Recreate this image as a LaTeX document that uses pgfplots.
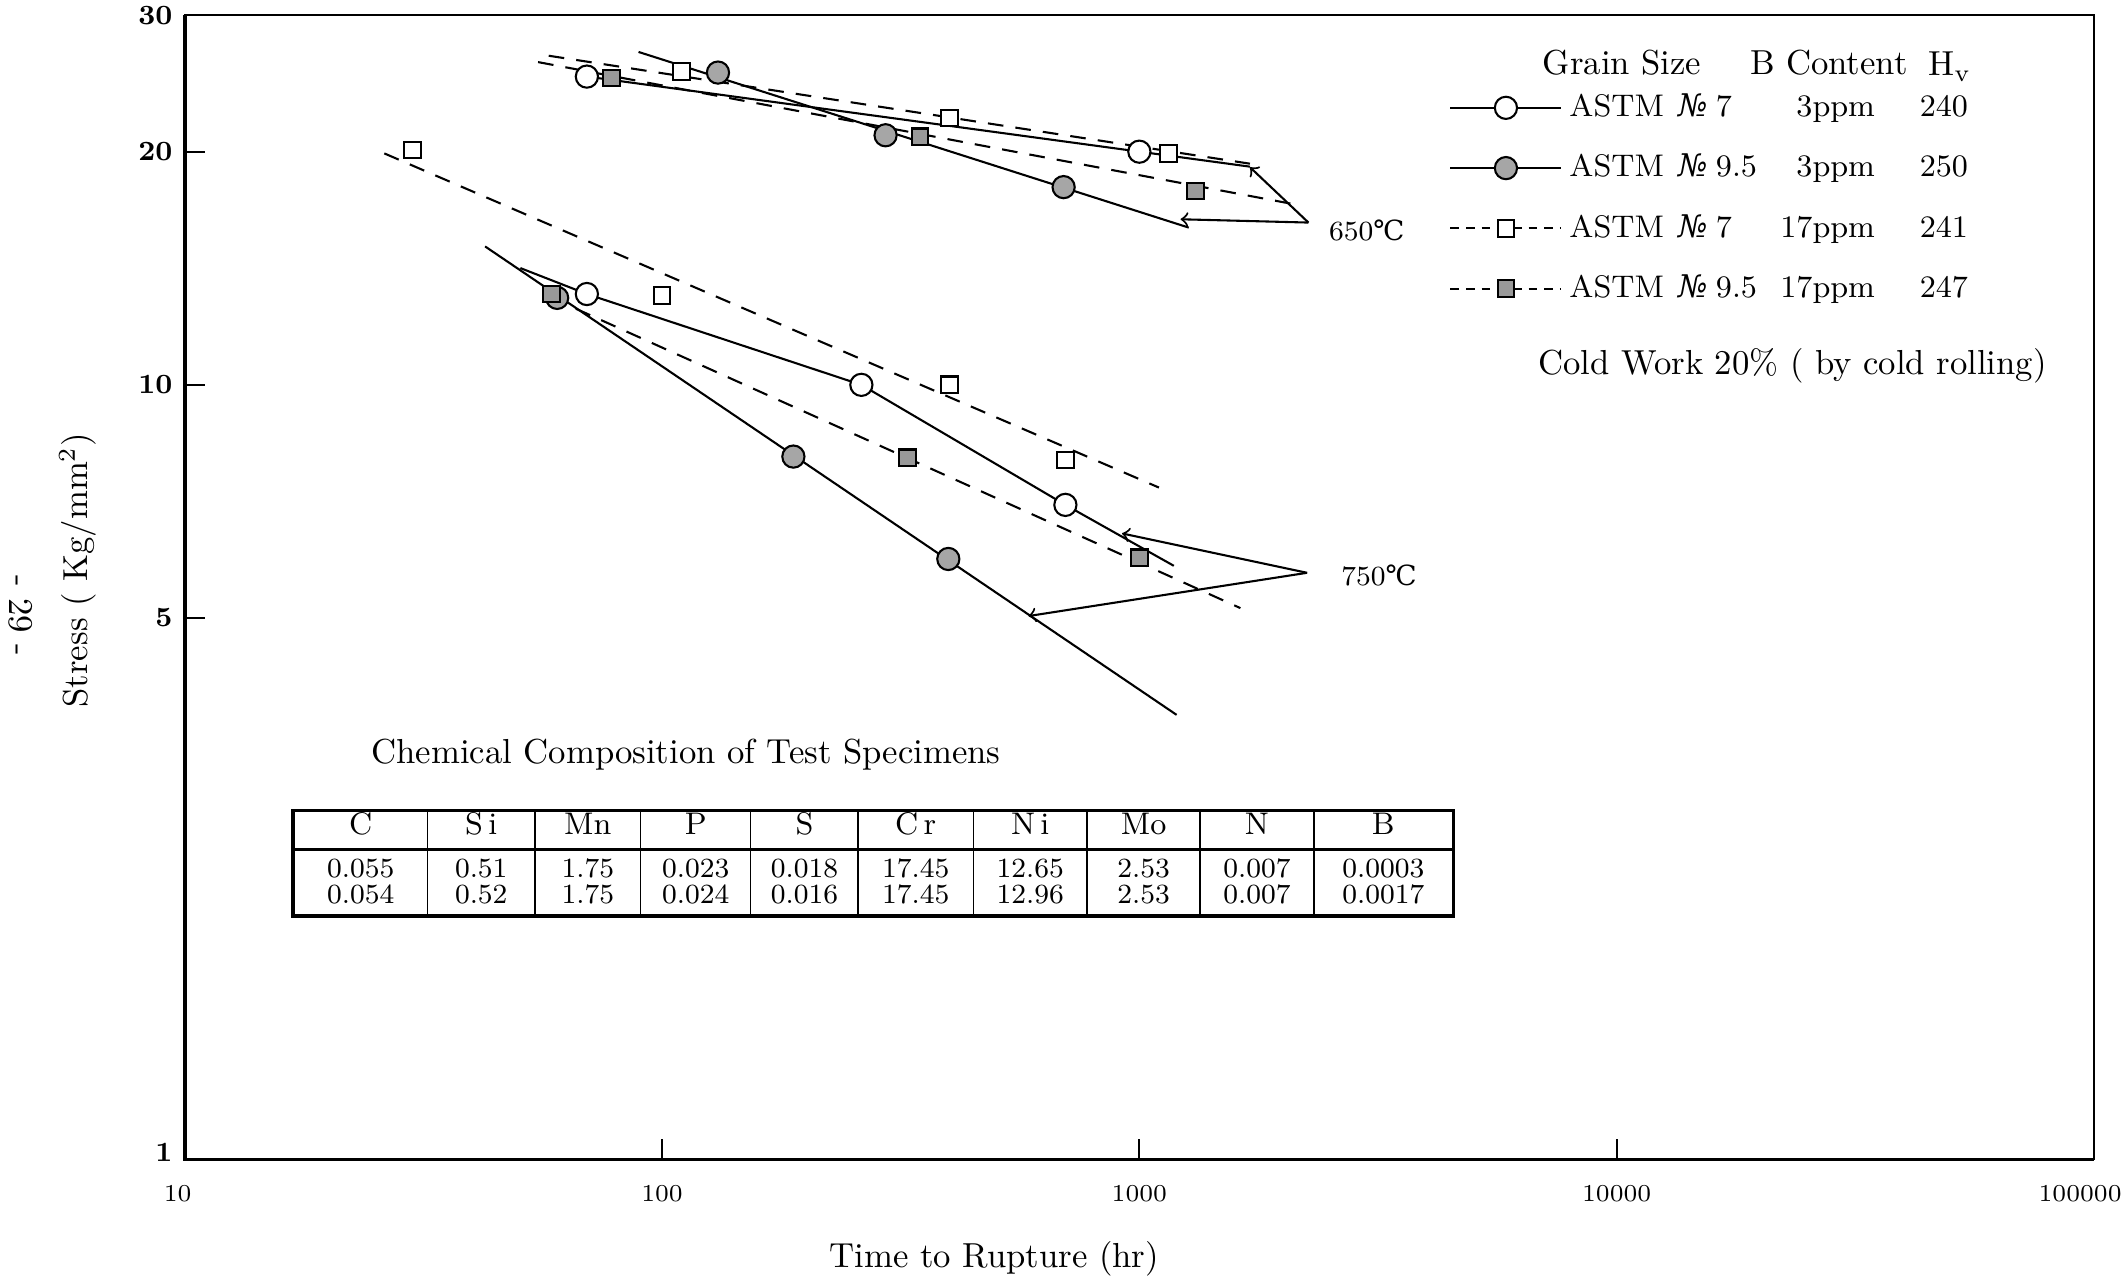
\documentclass[border=0pt]{standalone}
\usepackage{fontspec}
\usepackage{array}
\usepackage{pgfplots}
\pgfplotsset{compat=1.18}
\newfontfamily\dvs{DejaVu Serif}
\newcolumntype{C}[1]{>{\centering\arraybackslash}p{#1}}
\newcommand\ls{\addfontfeatures{LetterSpace=12}}
\newcommand\lsb{\addfontfeatures{LetterSpace=18}}
\begin{document}
\begin{tikzpicture}
\begin{axis}[
  scale only axis,
  width=550pt, height=329.6pt,
  xmode=log, ymode=log,
  xmin=10, xmax=100000, ymin=1, ymax=30,
  xtick={10,100,1000,10000,100000},
  xticklabels={\makebox[0pt]{\hspace*{-4pt}10},100,1000,10000,\makebox[0pt]{\hspace*{-8pt}100000}},
  ytick={1,5,10,20,30},
  yticklabels={\raisebox{4pt}{1},5,10,20,\raisebox{-1.5pt}{30}},
  xminorticks=false, yminorticks=false,
  major tick length=6pt,
  xtick pos=left, ytick pos=left,
  tick align=inside,
  tick style={black, line width=0.6pt},
  axis line style={line width=0.5pt},
  xticklabel style={font=\scriptsize, yshift=-4pt},
  yticklabel style={font=\footnotesize\bfseries},
  xlabel={Time to Rupture (hr)},
  ylabel={Stress ( Kg/mm$^2$)},
  xlabel style={at={(axis description cs:0.424,-0.0865)}, anchor=center},
  ylabel style={at={(axis description cs:-0.056,0.515)}, anchor=center},
  clip=false,
  legend image code/.code={\draw[mark repeat=2,mark phase=2,#1] plot coordinates {(0pt,0pt) (16pt,0pt) (32pt,0pt)};},
  legend style={at={(rel axis cs:0.662,0.938)}, anchor=north west, draw=none, fill=none,
    font=\small, row sep=5.3pt, inner sep=0pt, nodes={inner sep=2pt}},
  legend cell align=left,
  ocirc/.style={only marks, mark=*, mark size=3.2pt, mark options={fill=white, draw=black, line width=0.6pt}},
  gcirc/.style={only marks, mark=*, mark size=3.2pt, mark options={fill=black!35, draw=black, line width=0.6pt}},
  osq/.style={only marks, mark=square*, mark size=2.4pt, mark options={fill=white, draw=black, line width=0.6pt}},
  gsq/.style={only marks, mark=square*, mark size=2.4pt, mark options={fill=black!40, draw=black, line width=0.6pt}},
  sl/.style={no marks, solid, black, line width=0.6pt},
  dl/.style={no marks, black, line width=0.6pt, dash pattern=on 4.5pt off 3.5pt},
]
% ---------- 650 C ----------
\addplot[sl, forget plot] coordinates {(69.6,25.0) (1705,19.13)};
\addplot[sl, forget plot] coordinates {(89.3,26.9) (1269,15.96)};
\addplot[dl, forget plot] coordinates {(57.9,26.6) (1705,19.3)};
\addplot[dl, forget plot] coordinates {(55,26.1) (2117,17.1)};
% ---------- 750 C ----------
\addplot[sl, forget plot] coordinates {(50.5,14.15) (69.6,13.1) (261.6,10.0) (700,7.0) (1181,5.84)};
\addplot[sl, forget plot] coordinates {(42.6,15.09) (1197,3.75)};
\addplot[dl, forget plot] coordinates {(26.2,19.9) (1099,7.37)};
\addplot[dl, forget plot] coordinates {(66,12.54) (1628,5.15)};
% ---------- markers ----------
\addplot[ocirc, forget plot] coordinates {(69.6,25.0) (1000,20.0) (69.6,13.1) (261.6,10.0) (700,7.0)};
\addplot[gcirc, forget plot] coordinates {(131,25.3) (294,21.0) (694,18.0) (60.3,12.95) (188.5,8.08) (398,5.96)};
\addplot[osq, forget plot] coordinates {(110,25.4) (400,22.1) (1151,19.9) (30,20.1) (100,13.05) (400,10.0) (700,8.0)};
\addplot[gsq, forget plot] coordinates {(78.3,24.9) (347,20.9) (1312,17.8) (58.7,13.1) (327,8.05) (1000,5.98)};
% ---------- arrows ----------
\draw[->, line width=0.6pt] (axis cs:2261,16.2) -- (axis cs:1705,19.1);
\draw[->, line width=0.6pt] (axis cs:2261,16.2) -- (axis cs:1220,16.36);
\draw[->, line width=0.6pt] (axis cs:2246,5.72) -- (axis cs:920,6.43);
\draw[->, line width=0.6pt] (axis cs:2246,5.72) -- (axis cs:586,5.03);
\node[anchor=west, inner sep=0pt, font=\footnotesize] at (rel axis cs:0.599,0.8116) {650{\dvs ℃}};
\node[anchor=west, inner sep=0pt, font=\footnotesize] at (rel axis cs:0.6055,0.5107) {750{\dvs ℃}};
% ---------- legend ----------
\addlegendimage{solid, black, line width=0.6pt, mark=*, mark size=3.2pt, mark options={solid, fill=white}}
\addlegendentry{\makebox[31.3pt][l]{ASTM}\makebox[10.9pt][l]{\dvs\itshape №}\makebox[18pt][l]{7}\makebox[27.8pt][r]{\lsb 3ppm}\hspace{12.9pt}{\lsb 240}}
\addlegendimage{solid, black, line width=0.6pt, mark=*, mark size=3.2pt, mark options={solid, fill=black!35}}
\addlegendentry{\makebox[31.3pt][l]{ASTM}\makebox[10.9pt][l]{\dvs\itshape №}\makebox[18pt][l]{9.5}\makebox[27.8pt][r]{\lsb 3ppm}\hspace{12.9pt}{\lsb 250}}
\addlegendimage{black, line width=0.6pt, dash pattern=on 2.5pt off 2pt, mark=square*, mark size=2.4pt, mark options={solid, fill=white}}
\addlegendentry{\makebox[31.3pt][l]{ASTM}\makebox[10.9pt][l]{\dvs\itshape №}\makebox[18pt][l]{7}\makebox[27.8pt][r]{\lsb 17ppm}\hspace{12.9pt}{\lsb 241}}
\addlegendimage{black, line width=0.6pt, dash pattern=on 2.5pt off 2pt, mark=square*, mark size=2.4pt, mark options={solid, fill=black!40}}
\addlegendentry{\makebox[31.3pt][l]{ASTM}\makebox[10.9pt][l]{\dvs\itshape №}\makebox[18pt][l]{9.5}\makebox[27.8pt][r]{\lsb 17ppm}\hspace{12.9pt}{\lsb 247}}
\node[anchor=west, inner sep=0pt] at (rel axis cs:0.711,0.9585) {Grain Size};
\node[anchor=west, inner sep=0pt] at (rel axis cs:0.8195,0.9585) {B Content};
\node[anchor=west, inner sep=0pt] at (rel axis cs:0.913,0.955) {H$_{\mathrm{v}}$};
\node[anchor=west, inner sep=0pt] at (rel axis cs:0.7086,0.694) {Cold Work 20\% ( by cold rolling)};
\node[anchor=west, inner sep=0pt] at (rel axis cs:0.0974,0.354) {Chemical Composition of Test Specimens};
\node[rotate=-90] at (rel axis cs:-0.086,0.475) {- 29 -};
\draw[line width=1.1pt] (rel axis cs:0,1) -- (rel axis cs:0,0) -- (rel axis cs:1,0);
\coordinate (SW) at (rel axis cs:0,0);
\coordinate (NE) at (rel axis cs:1,1);
\coordinate (TAB) at (rel axis cs:0.0554,0.3069);
\end{axis}
\node[anchor=north west, inner sep=0pt, font=\footnotesize] at (TAB) {%
\setlength\tabcolsep{0pt}\renewcommand\arraystretch{0.8}%
\begin{tabular}{!{\vrule width 1pt}C{38.1pt}|C{30.5pt}|C{30.1pt}|C{31.3pt}|C{30.5pt}|C{32.8pt}|C{32.4pt}|C{32.1pt}|C{32.4pt}|C{39.6pt}!{\vrule width 0.8pt}}
\noalign{\hrule height 1pt}
\rule[-4pt]{0pt}{9.3pt}\small C & \small S\,i & \small Mn & \small P & \small S & \small C\,r & \small N\,i & \small Mo & \small N & \small B\\
\noalign{\hrule height 0.8pt}
\rule{0pt}{7.5pt}\ls 0.055 & \ls 0.51 & \ls 1.75 & \ls 0.023 & \ls 0.018 & \ls 17.45 & \ls 12.65 & \ls 2.53 & \ls 0.007 & \ls 0.0003\\
\rule[-3pt]{0pt}{3pt}\ls 0.054 & \ls 0.52 & \ls 1.75 & \ls 0.024 & \ls 0.016 & \ls 17.45 & \ls 12.96 & \ls 2.53 & \ls 0.007 & \ls 0.0017\\
\noalign{\hrule height 1pt}
\end{tabular}};
\pgfresetboundingbox
\path ([xshift=-53.2pt,yshift=-33.6pt]SW) rectangle ([xshift=9.8pt,yshift=4.4pt]NE);
\end{tikzpicture}
\end{document}
